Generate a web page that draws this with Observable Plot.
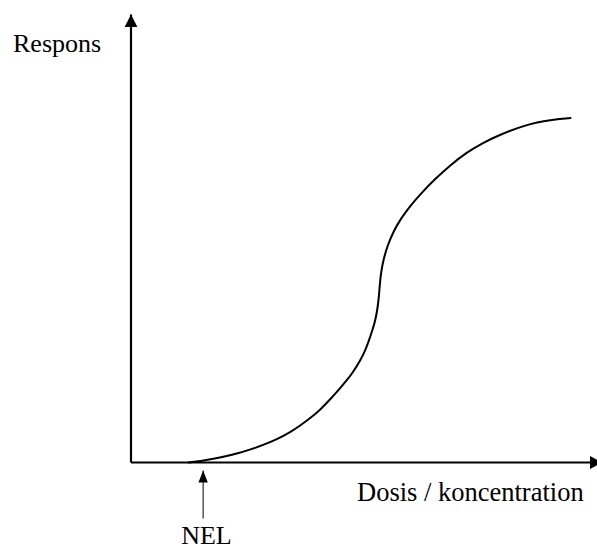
<!DOCTYPE html>
<html>
<head>
<meta charset="utf-8">
<script src="https://cdn.jsdelivr.net/npm/d3@7"></script>
<script src="https://cdn.jsdelivr.net/npm/@observablehq/plot@0.6"></script>
<style>
  html, body { margin: 0; padding: 0; background: #fff; }
</style>
</head>
<body>
<div id="chart"></div>
<script>
// ---- data ----
const dose     = [12.2, 14.74, 17.5, 20.04, 22.59, 25.34, 28.1, 31.07, 33.83, 35.95, 38.07, 40.19, 42.31, 44.01, 45.85, 47.19, 48.67, 49.63, 50.43, 51.22, 51.86, 52.28, 52.56,
                  52.75, 53.02, 53.55, 54.4, 55.67, 57.16, 59.28, 61.4, 64.58, 67.76, 71.16, 74.76, 78.37, 81.97, 84.73, 87.49, 90.46, 93.21];
const response = [0.0, 0.27, 0.83, 1.38, 2.01, 2.9, 3.95, 5.25, 6.81, 8.3, 9.93, 11.83, 14.17, 16.18, 18.42, 20.31, 22.88, 24.89, 27.12, 29.58, 31.92, 34.38, 36.83,
                  39.51, 42.41, 45.31, 48.44, 51.56, 54.35, 57.37, 59.93, 63.39, 66.41, 69.2, 71.43, 73.21, 74.67, 75.56, 76.23, 76.67, 76.9];
const xDomain = [0, 100];
const yDomain = [0, 100];
const nelDose = [15.3];
const nelArrowY = [-1.8, -12.5];
const yLabel = ["Respons"];
const xLabel = ["Dosis / koncentration"];
const nelLabel = ["NEL"];

// ---- derived tables ----
const curve = dose.map((d, i) => ({dose: d, response: response[i]}));
const axes = [
  {x1: xDomain[0], y1: yDomain[0], x2: xDomain[0], y2: yDomain[1]},
  {x1: xDomain[0], y1: yDomain[0], x2: xDomain[1], y2: yDomain[0]}
];
const axisHeads = [
  {x: xDomain[0], y: yDomain[1], rotate: 0},
  {x: xDomain[1], y: yDomain[0], rotate: 90}
];
const nelShaft = [{x: nelDose[0], y1: nelArrowY[0], y2: nelArrowY[1]}];
const nelHead = [{x: nelDose[0], y: nelArrowY[0]}];

// filled arrowhead symbols, tip at the anchor, pointing up
const headSymbol = (len, half) => ({
  draw(ctx) {
    ctx.moveTo(0, 0);
    ctx.lineTo(-half, len);
    ctx.lineTo(half, len);
    ctx.closePath();
  }
});

const font = "Liberation Serif, Times New Roman, Times, serif";

const chart = Plot.plot({
  width: 597,
  height: 549,
  margin: 0,
  x: {domain: xDomain, range: [130.5, 602], axis: null},
  y: {domain: yDomain, range: [462, 14], axis: null},
  style: {fontFamily: font, fontSize: "26px", background: "#fff", color: "#000"},
  marks: [
    Plot.link(axes, {x1: "x1", y1: "y1", x2: "x2", y2: "y2", stroke: "#000", strokeWidth: 2.2}),
    Plot.dot(axisHeads, {x: "x", y: "y", rotate: "rotate", r: 6, symbol: headSymbol(12.5, 6.4), fill: "#000", stroke: "none"}),
    Plot.line(curve, {x: "dose", y: "response", curve: "basis", stroke: "#000", strokeWidth: 2}),
    Plot.link(nelShaft, {x1: "x", x2: "x", y1: "y1", y2: "y2", stroke: "#000", strokeWidth: 1}),
    Plot.dot(nelHead, {x: "x", y: "y", r: 5, symbol: headSymbol(12, 4.7), fill: "#000", stroke: "none"}),
    Plot.text(yLabel, {text: d => d, frameAnchor: "top-left", textAnchor: "start", lineAnchor: "bottom", dx: 12.5, dy: 51.7, fontSize: 26, fontFamily: font}),
    Plot.text(xLabel, {text: d => d, frameAnchor: "top-left", textAnchor: "start", lineAnchor: "bottom", dx: 356.5, dy: 500, fontSize: 26.5, fontFamily: font}),
    Plot.text(nelLabel, {text: d => d, x: nelDose[0], frameAnchor: "bottom", textAnchor: "middle", lineAnchor: "bottom", dx: 3.3, dy: -6, fontSize: 26, fontFamily: font})
  ]
});
document.getElementById("chart").appendChild(chart);
</script>
</body>
</html>
